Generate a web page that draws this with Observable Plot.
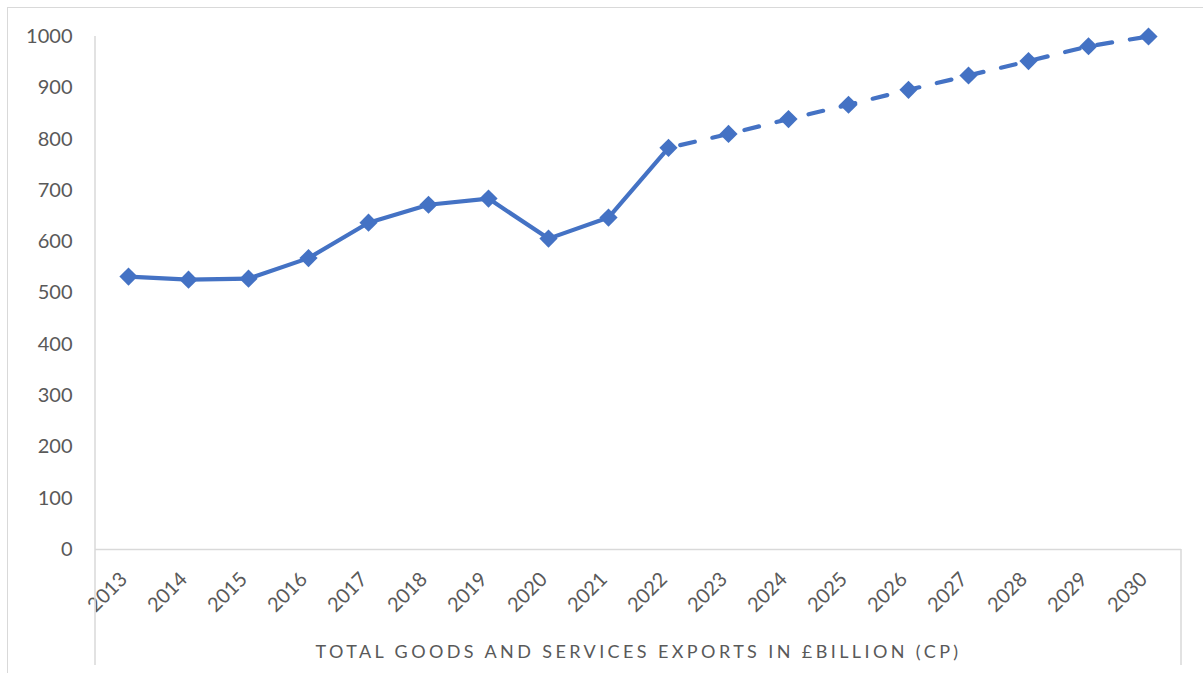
<!DOCTYPE html>
<html>
<head>
<meta charset="utf-8">
<script src="https://cdn.jsdelivr.net/npm/d3@7"></script>
<script src="https://cdn.jsdelivr.net/npm/@observablehq/plot@0.6"></script>
<style>
  html, body { margin: 0; padding: 0; background: #fff; overflow: hidden; }
  #wrap { position: relative; width: 1203px; height: 673px; }
  #border { position: absolute; left: 7px; top: 7px; width: 1400px; height: 900px; border: 1.5px solid #d9d9d9; box-sizing: border-box; }
  #chart { position: absolute; left: 0; top: 0; }
</style>
</head>
<body>
<div id="wrap"><div id="border"></div><div id="chart"></div></div>
<script>
const years = ["2013","2014","2015","2016","2017","2018","2019","2020","2021","2022","2023","2024","2025","2026","2027","2028","2029","2030"];
const values = [532, 526, 528, 568, 637, 672, 684, 606, 647, 783, 810, 839, 867, 896, 924, 952, 981, 1000];
const yTicks = [0, 100, 200, 300, 400, 500, 600, 700, 800, 900, 1000];
const lastActual = "2022";
const captionText = "TOTAL GOODS AND SERVICES EXPORTS IN £BILLION (CP)";

const data = years.map((y, i) => ({year: y, value: values[i]}));
const iSplit = years.indexOf(lastActual);
const actual = data.slice(0, iSplit + 1);
const forecast = data.slice(iSplit);

const W = 1203, H = 673;
const mL = 95, mR = 22, mT = 36, mB = 124;
const blue = "#4472C4";
const grey = "#d9d9d9";
const textCol = "#595959";
const font = "Lato, 'Open Sans', sans-serif";

const plot = Plot.plot({
  width: W,
  height: H,
  marginLeft: mL,
  marginRight: mR,
  marginTop: mT,
  marginBottom: mB,
  style: {fontFamily: font, background: "transparent", overflow: "visible"},
  x: {type: "point", domain: years, padding: 0.5, axis: null},
  y: {domain: [0, 1000], axis: null},
  marks: [
    Plot.ruleY([0], {stroke: grey, strokeWidth: 1.5}),
    Plot.text(yTicks, {
      y: d => d, text: d => String(d),
      frameAnchor: "left", dx: -23, textAnchor: "end",
      fontSize: 20, fill: textCol
    }),
    Plot.text(years, {
      x: d => d, text: d => d, frameAnchor: "bottom",
      dy: 31, dx: 0, rotate: -45, textAnchor: "end",
      fontSize: 20, fill: textCol
    }),
    Plot.line(actual, {x: "year", y: "value", stroke: blue, strokeWidth: 4.2, strokeLinejoin: "round", strokeLinecap: "round"}),
    Plot.line(forecast, {x: "year", y: "value", stroke: blue, strokeWidth: 4.2, strokeDasharray: "15,18", strokeDashoffset: -12, strokeLinecap: "round"}),
    Plot.dot(data, {x: "year", y: "value", symbol: "diamond2", r: 8.2, fill: blue, stroke: "none"}),
    Plot.text([captionText], {
      text: d => d, frameAnchor: "bottom", dy: 108,
      fontSize: 18, fill: textCol
    })
  ]
});

document.getElementById("chart").appendChild(plot);

// category axis boundary lines extending below the plot
const svg = d3.select(plot);
svg.append("line").attr("x1", mL).attr("x2", mL).attr("y1", mT).attr("y2", H - 8)
  .attr("stroke", grey).attr("stroke-width", 1.5);
svg.append("line").attr("x1", W - mR).attr("x2", W - mR).attr("y1", H - mB).attr("y2", H - 8)
  .attr("stroke", grey).attr("stroke-width", 1.5);
svg.selectAll("text").filter(function() { return this.textContent === captionText; })
  .style("letter-spacing", "3.4px");
</script>
</body>
</html>
